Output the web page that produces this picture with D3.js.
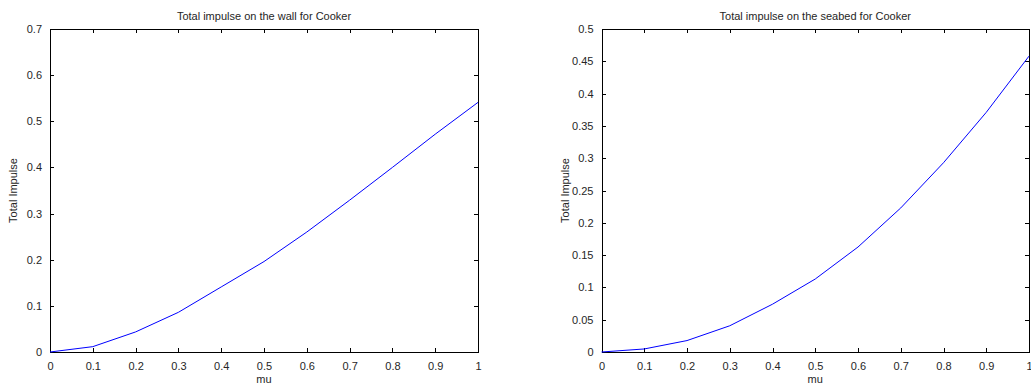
<!DOCTYPE html>
<html>
<head>
<meta charset="utf-8">
<title>Total impulse</title>
<style type="text/css">
body { margin: 0; background: #fff; }
svg text { font-family: "Liberation Sans", Arial, sans-serif; font-size: 11px; fill: #262626; }
.axis path, .axis line { stroke: #000; shape-rendering: crispEdges; }
.line { fill: none; stroke: #0000ff; stroke-width: 1px; }
</style>
<script src="https://cdn.jsdelivr.net/npm/d3@7"></script>
</head>
<body>
<svg width="1031" height="385"></svg>
<script type="text/javascript">

// shared x values (mu)
var mu = [0, 0.1, 0.2, 0.3, 0.4, 0.5, 0.6, 0.7, 0.8, 0.9, 1.0];

// impulse on the wall
var wallImpulse = [0, 0.0116, 0.0435, 0.086, 0.141, 0.196, 0.260, 0.329, 0.400, 0.472, 0.541];
// impulse on the seabed
var seabedImpulse = [0, 0.0047, 0.0177, 0.0406, 0.074, 0.113, 0.1625, 0.223, 0.293, 0.371, 0.458];

var xTicks = [0, 0.1, 0.2, 0.3, 0.4, 0.5, 0.6, 0.7, 0.8, 0.9, 1];
var wallTicks = [0, 0.1, 0.2, 0.3, 0.4, 0.5, 0.6, 0.7];
var seabedTicks = [0, 0.05, 0.1, 0.15, 0.2, 0.25, 0.3, 0.35, 0.4, 0.45, 0.5];

var svg = d3.select("svg");

function drawPanel(left, right, top, bottom, values, yTicks, yMax, title) {
  var x = d3.scaleLinear().domain([0, 1]).range([left, right]);
  var y = d3.scaleLinear().domain([0, yMax]).range([bottom, top]);
  var g = svg.append("g");
  var fmt = function(d){ return String(+d.toFixed(2)); };

  g.append("g").attr("class", "axis")
    .attr("transform", "translate(0," + bottom + ")")
    .call(d3.axisBottom(x).tickValues(xTicks).tickSizeInner(-4).tickSizeOuter(0).tickPadding(10).tickFormat(fmt));
  g.append("g").attr("class", "axis")
    .attr("transform", "translate(0," + top + ")")
    .call(d3.axisTop(x).tickValues(xTicks).tickSizeInner(-4).tickSizeOuter(0).tickFormat(""));
  g.append("g").attr("class", "axis")
    .attr("transform", "translate(" + left + ",0)")
    .call(d3.axisLeft(y).tickValues(yTicks).tickSizeInner(-4).tickSizeOuter(0).tickPadding(8).tickFormat(fmt));
  g.append("g").attr("class", "axis")
    .attr("transform", "translate(" + right + ",0)")
    .call(d3.axisRight(y).tickValues(yTicks).tickSizeInner(-4).tickSizeOuter(0).tickFormat(""));
  g.selectAll(".axis .domain").attr("stroke", "#000");
  g.selectAll(".axis text").attr("fill", "#262626").style("font-size", "11px");

  g.append("path")
    .datum(mu.map(function(m, i){ return [m, values[i]]; }))
    .attr("class", "line")
    .attr("d", d3.line().x(function(d){ return x(d[0]); }).y(function(d){ return y(d[1]); }));

  g.append("text")
    .attr("x", (left + right) / 2).attr("y", top - 9)
    .attr("text-anchor", "middle")
    .text(title);
  g.append("text")
    .attr("x", (left + right) / 2).attr("y", bottom + 31)
    .attr("text-anchor", "middle")
    .text("mu");
  g.append("text")
    .attr("transform", "translate(" + (left - 33) + "," + ((top + bottom) / 2) + ") rotate(-90)")
    .attr("text-anchor", "middle")
    .text("Total Impulse");
}

drawPanel(50, 478, 29, 352, wallImpulse, wallTicks, 0.7, "Total impulse on the wall for Cooker");
drawPanel(601.5, 1029, 29, 352, seabedImpulse, seabedTicks, 0.5, "Total impulse on the seabed for Cooker");

</script>
</body>
</html>
